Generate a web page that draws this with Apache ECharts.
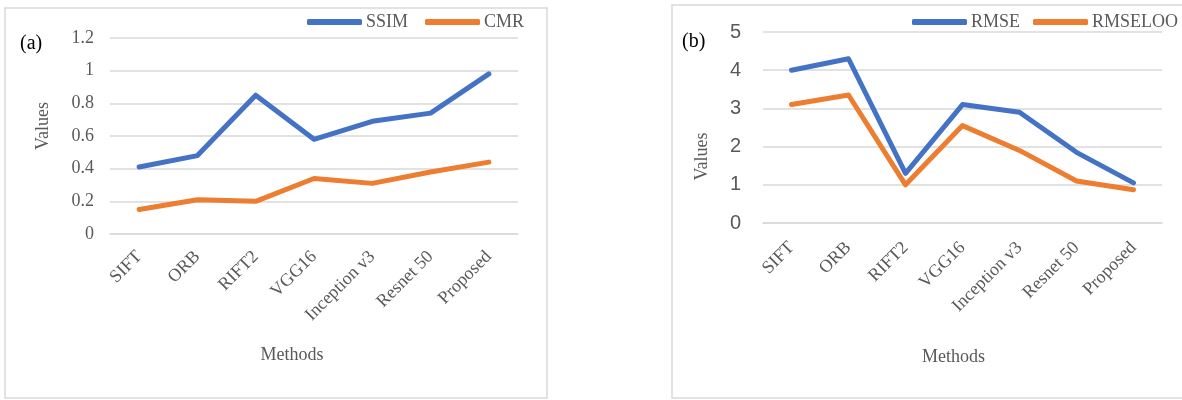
<!DOCTYPE html>
<html>
<head>
<meta charset="utf-8">
<script src="https://cdn.jsdelivr.net/npm/echarts@6/dist/echarts.min.js"></script>
<style>html,body{margin:0;padding:0;background:#fff}#c{width:1182px;height:400px}</style>
</head>
<body>
<div id="c"></div>
<script>
const categories = ['SIFT', 'ORB', 'RIFT2', 'VGG16', 'Inception v3', 'Resnet 50', 'Proposed'];
const ssim = [0.41, 0.48, 0.85, 0.58, 0.69, 0.74, 0.98];
const cmr = [0.15, 0.21, 0.20, 0.34, 0.31, 0.38, 0.44];
const rmse = [4.0, 4.3, 1.3, 3.1, 2.9, 1.85, 1.05];
const rmseloo = [3.1, 3.35, 1.0, 2.55, 1.9, 1.1, 0.87];

const SERIF = '"Liberation Serif", "Times New Roman", serif';
const SANS = '"Liberation Sans", Arial, sans-serif';
const GREY = '#595959';
const GRID = '#d9d9d9';
const BLUE = '#4472C4';
const ORANGE = '#ED7D31';

const chart = echarts.init(document.getElementById('c'), null, {renderer: 'canvas'});

function xAxisFor(idx, padRight, gap, margin) {
  return {
    type: 'category', gridIndex: idx, data: categories, boundaryGap: true,
    axisLine: {show: true, lineStyle: {color: GRID, width: 1.5}},
    axisTick: {show: false},
    axisLabel: {rotate: 45, margin: margin, color: GREY, fontFamily: SERIF, fontSize: 18, interval: 0},
    name: 'Methods', nameLocation: 'middle', nameGap: gap,
    nameTextStyle: {color: GREY, fontFamily: SERIF, fontSize: 18, padding: [0, padRight, 0, 0]}
  };
}

const line = (name, data, color, idx) => ({
  name, type: 'line', data, xAxisIndex: idx, yAxisIndex: idx,
  symbol: 'none', lineStyle: {color, width: 5, cap: 'round', join: 'round'},
  itemStyle: {color}, animation: false
});

const legendBase = {
  icon: 'roundRect', itemWidth: 55, itemHeight: 6, padding: 0, top: 13,
  orient: 'horizontal', textStyle: {color: GREY, fontFamily: SERIF, fontSize: 18, padding: [0, 0, 0, -1]}
};

chart.setOption({
  animation: false,
  grid: [
    {left: 110, right: 664, top: 38, bottom: 166},
    {left: 763, right: 20, top: 32, bottom: 177}
  ],
  legend: [
    Object.assign({}, legendBase, {data: ['SSIM', 'CMR'], left: 307, width: 260, itemGap: 17}),
    Object.assign({}, legendBase, {data: ['RMSE', 'RMSELOO'], left: 912, width: 300, itemGap: 13})
  ],
  xAxis: [xAxisFor(0, 44, 112, 20), xAxisFor(1, 18, 125, 22)],
  yAxis: [
    {type: 'value', gridIndex: 0, min: 0, max: 1.2, interval: 0.2,
     axisLine: {show: false}, axisTick: {show: false},
     splitLine: {lineStyle: {color: GRID, width: 1.5}},
     axisLabel: {color: GREY, fontFamily: SERIF, fontSize: 18, margin: 16},
     name: 'Values', nameLocation: 'middle', nameGap: 58, nameRotate: 90,
     nameTextStyle: {color: GREY, fontFamily: SERIF, fontSize: 18, padding: [0, 0, 0, 20]}},
    {type: 'value', gridIndex: 1, min: 0, max: 5, interval: 1,
     axisLine: {show: false}, axisTick: {show: false},
     splitLine: {lineStyle: {color: GRID, width: 1.5}},
     axisLabel: {color: GREY, fontFamily: SANS, fontSize: 20, margin: 22},
     name: 'Values', nameLocation: 'middle', nameGap: 52, nameRotate: 90,
     nameTextStyle: {color: GREY, fontFamily: SERIF, fontSize: 18, padding: [0, 58, 0, 0]}}
  ],
  graphic: [
    {type: 'rect', shape: {x: 5, y: 8, width: 542, height: 390}, style: {fill: 'none', stroke: GRID, lineWidth: 1.5}, silent: true, z: -1},
    {type: 'rect', shape: {x: 672, y: 5, width: 530, height: 393}, style: {fill: 'none', stroke: GRID, lineWidth: 1.5}, silent: true, z: -1},
    {type: 'text', left: 20, top: 34, style: {text: '(a)', fill: '#000', font: '20px ' + SERIF}},
    {type: 'text', left: 682, top: 32, style: {text: '(b)', fill: '#000', font: '20px ' + SERIF}}
  ],
  series: [
    line('SSIM', ssim, BLUE, 0),
    line('CMR', cmr, ORANGE, 0),
    line('RMSE', rmse, BLUE, 1),
    line('RMSELOO', rmseloo, ORANGE, 1)
  ]
});
</script>
</body>
</html>
